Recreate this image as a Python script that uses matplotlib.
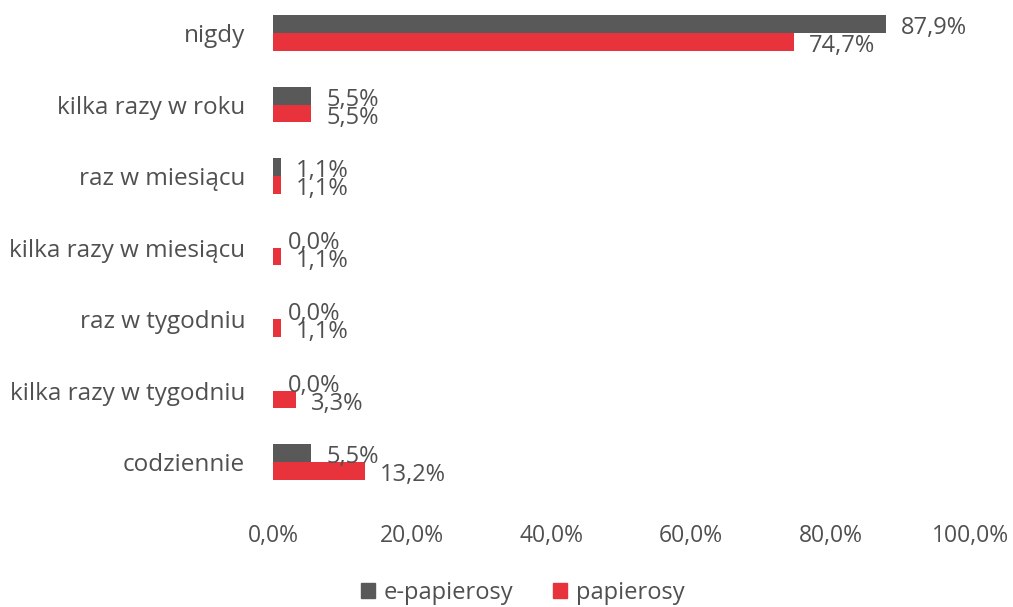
import numpy as np
import matplotlib.pyplot as plt
from matplotlib.patches import Patch

# Data
categories = ['nigdy', 'kilka razy w roku', 'raz w miesiącu', 'kilka razy w miesiącu',
              'raz w tygodniu', 'kilka razy w tygodniu', 'codziennie']
e_papierosy = [87.9, 5.5, 1.1, 0.0, 0.0, 0.0, 5.5]
papierosy = [74.7, 5.5, 1.1, 1.1, 1.1, 3.3, 13.2]
x_ticks = [0, 20, 40, 60, 80, 100]

GRAY = '#595959'
RED = '#e8333c'
TEXT = '#505050'


def fmt(v):
    return f'{v:.1f}'.replace('.', ',') + '%'


def main():
    plt.rcParams['font.family'] = ['Open Sans', 'DejaVu Sans']
    fig = plt.figure(figsize=(10.13, 6.07), dpi=100)
    ax = fig.add_axes([273 / 1013, 1 - 498 / 607, 697 / 1013, 498 / 607])

    y = np.arange(len(categories))
    h = 0.25
    ax.barh(y - h / 2, e_papierosy, height=h, color=GRAY)
    ax.barh(y + h / 2, papierosy, height=h, color=RED)

    # value labels, slightly overlapping like the original
    for yi, v in zip(y, e_papierosy):
        ax.annotate(fmt(v), (v, yi - h / 2), xytext=(11, -3), textcoords='offset points',
                    ha='left', va='center', fontsize=17, color=TEXT)
    for yi, v in zip(y, papierosy):
        ax.annotate(fmt(v), (v, yi + h / 2), xytext=(11, -3), textcoords='offset points',
                    ha='left', va='center', fontsize=17, color=TEXT)

    ax.set_xlim(0, 100)
    ax.set_ylim(6.503, -0.4615)
    ax.set_yticks(y)
    ax.set_yticklabels(categories)
    ax.set_xticks(x_ticks)
    ax.set_xticklabels([fmt(t) for t in x_ticks])
    ax.tick_params(axis='both', length=0, colors=TEXT)
    ax.tick_params(axis='x', pad=19, labelsize=16.5)
    ax.tick_params(axis='y', pad=20, labelsize=17.5)
    for s in ax.spines.values():
        s.set_visible(False)

    handles = [Patch(color=GRAY, label='e-papierosy'), Patch(color=RED, label='papierosy')]
    leg = fig.legend(handles=handles, loc='center', bbox_to_anchor=(0.516, 1 - 593 / 607),
                     ncol=2, frameon=False, fontsize=17, handlelength=0.6, handleheight=0.6,
                     handletextpad=0.35, columnspacing=1.7)
    for t in leg.get_texts():
        t.set_color(TEXT)

    fig.savefig('out.png', dpi=100)


if __name__ == "__main__":
    main()
